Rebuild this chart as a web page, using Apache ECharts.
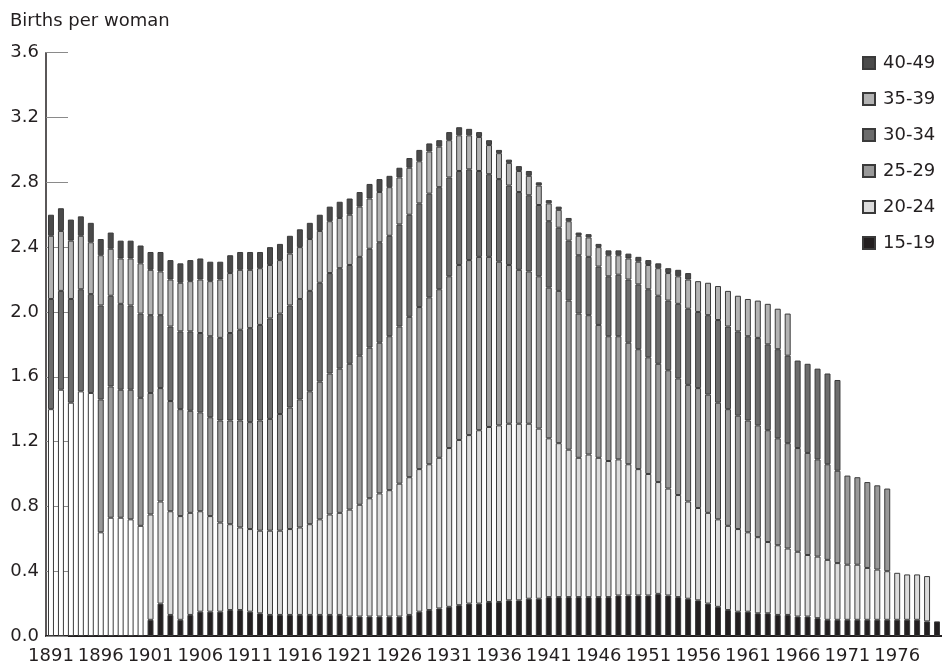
<!DOCTYPE html>
<html><head><meta charset="utf-8">
<script src="https://cdn.jsdelivr.net/npm/echarts@6/dist/echarts.min.js"></script>
<style>html,body{margin:0;padding:0;background:#fff}#c{width:942px;height:667px}</style>
</head><body><div id="c"></div>
<script>
const years = Array.from({length: 90}, (_, i) => String(1891 + i));
const yTicks = [0, 0.4, 0.8, 1.2, 1.6, 2.0, 2.4, 2.8, 3.2, 3.6];
const legendNames = ['40-49', '35-39', '30-34', '25-29', '20-24', '15-19'];
const E = '-';
const s15_19 = [E,E,E,E,E,E,E,E,E,E,
  .10,.20,.13,.10,.13,.15,.15,.15,.16,.16,
  .15,.14,.13,.13,.13,.13,.13,.13,.13,.13,
  .12,.12,.12,.12,.12,.12,.13,.15,.16,.17,
  .18,.19,.20,.20,.21,.21,.22,.22,.23,.23,
  .24,.24,.24,.24,.24,.24,.24,.25,.25,.25,
  .25,.26,.25,.24,.23,.22,.20,.18,.16,.15,
  .15,.14,.14,.13,.13,.12,.12,.11,.10,.10,
  .10,.10,.10,.10,.10,.10,.10,.10,.09,.09];
const s15_24 = [1.40,1.52,1.44,1.51,1.50,.64,.73,.73,.72,.68,
  E,E,E,E,E,E,E,E,E,E, E,E,E,E,E,E,E,E,E,E, E,E,E,E,E,E,E,E,E,E, E,E,E,E,E,E,E,E,E,E,
  E,E,E,E,E,E,E,E,E,E, E,E,E,E,E,E,E,E,E,E, E,E,E,E,E,E,E,E,E,E, E,E,E,E,E,E,E,E,E,E];
const s20_24 = [E,E,E,E,E,E,E,E,E,E,
  .65,.63,.64,.64,.63,.62,.59,.55,.53,.51,
  .51,.51,.52,.52,.53,.54,.56,.59,.62,.63,
  .66,.69,.73,.76,.78,.82,.85,.88,.90,.93,
  .98,1.02,1.04,1.07,1.08,1.09,1.09,1.09,1.08,1.05,
  .98,.95,.91,.86,.88,.86,.84,.84,.81,.78,
  .75,.69,.66,.63,.60,.57,.56,.54,.52,.51,
  .49,.47,.44,.43,.41,.40,.38,.38,.37,.35,
  .34,.34,.32,.31,.30,.29,.28,.28,.28,E];
const s25_29 = [E,E,E,E,E,.82,.81,.79,.80,.79,
  .75,.70,.68,.66,.63,.61,.61,.63,.64,.66,
  .66,.68,.69,.72,.75,.79,.82,.85,.87,.89,
  .90,.92,.93,.93,.95,.97,.99,1.00,1.03,1.04,
  1.06,1.08,1.08,1.07,1.05,1.01,.98,.95,.94,.94,
  .93,.94,.92,.89,.86,.82,.77,.76,.75,.74,
  .72,.73,.73,.72,.72,.74,.73,.72,.72,.70,
  .69,.69,.69,.66,.65,.64,.63,.60,.59,.57,
  .55,.54,.53,.52,.51,E,E,E,E,E];
const s30_34 = [.68,.61,.64,.63,.61,.58,.56,.53,.52,.52,
  .48,.45,.46,.48,.49,.49,.50,.51,.54,.56,
  .58,.59,.62,.62,.63,.62,.62,.61,.62,.62,
  .61,.61,.61,.62,.62,.63,.63,.64,.64,.63,
  .61,.58,.56,.53,.51,.51,.49,.48,.47,.44,
  .41,.39,.37,.36,.36,.36,.37,.38,.39,.40,
  .42,.42,.43,.46,.47,.47,.49,.51,.51,.52,
  .52,.54,.53,.55,.54,.54,.55,.56,.56,.56,
  E,E,E,E,E,E,E,E,E,E];
const s35_39 = [.39,.37,.36,.33,.32,.31,.29,.28,.29,.31,
  .28,.27,.29,.30,.31,.33,.34,.36,.37,.37,
  .36,.35,.33,.33,.32,.32,.32,.32,.32,.31,
  .31,.31,.31,.31,.30,.29,.29,.26,.26,.25,
  .23,.22,.21,.21,.18,.16,.14,.13,.12,.12,
  .11,.11,.12,.12,.12,.12,.13,.12,.13,.14,
  .15,.17,.17,.17,.18,.19,.20,.21,.22,.22,
  .23,.23,.25,.25,.26,E,E,E,E,E,
  E,E,E,E,E,E,E,E,E,E];
const s40_49 = [.13,.14,.13,.12,.12,.10,.10,.11,.11,.11,
  .11,.12,.12,.12,.13,.13,.12,.11,.11,.11,
  .11,.10,.11,.10,.11,.11,.10,.10,.09,.10,
  .10,.09,.09,.08,.07,.06,.06,.07,.05,.04,
  .05,.05,.04,.03,.03,.02,.02,.03,.03,.02,
  .02,.02,.02,.02,.02,.02,.03,.03,.03,.03,
  .03,.03,.03,.04,.04,E,E,E,E,E,
  E,E,E,E,E,E,E,E,E,E,
  E,E,E,E,E,E,E,E,E,E];

const seriesDefs = [
  ['15-19', s15_19, '#231f20'],
  ['15-24', s15_24, '#ffffff'],
  ['20-24', s20_24, '#dcdcdc'],
  ['25-29', s25_29, '#999999'],
  ['30-34', s30_34, '#6c6c6c'],
  ['35-39', s35_39, '#b3b3b3'],
  ['40-49', s40_49, '#4a4a4a']
];
const TXT = '#231f20';
const FONT = 'DejaVu Sans';
const chart = echarts.init(document.getElementById('c'), null, {renderer: 'canvas'});
chart.setOption({
  animation: false,
  backgroundColor: '#fff',
  textStyle: {fontFamily: FONT},
  title: {text: 'Births per woman', left: 5, top: 7,
    textStyle: {fontSize: 18, fontWeight: 'normal', color: TXT, fontFamily: FONT}},
  legend: {
    data: legendNames, orient: 'vertical', left: 857, top: 48,
    itemWidth: 12, itemHeight: 12, itemGap: 16, icon: 'rect',
    textStyle: {fontSize: 18, color: TXT, lineHeight: 20, padding: [0, 0, 0, 3], fontFamily: FONT}
  },
  grid: {left: 46, right: 0, top: 52.7, bottom: 31, containLabel: false, outerBoundsMode: 'none'},
  xAxis: {
    type: 'category', data: years,
    axisLine: {lineStyle: {color: TXT, width: 2}},
    axisTick: {show: false},
    axisLabel: {interval: 4, fontSize: 18, color: TXT, margin: 11, fontFamily: FONT}
  },
  yAxis: {
    type: 'value', min: 0, max: 3.6, interval: 0.4,
    axisLine: {show: true, lineStyle: {color: TXT, width: 1.5}},
    axisTick: {show: true, inside: true, length: 22, lineStyle: {color: '#8a8a8a', width: 1}},
    splitLine: {show: false},
    axisLabel: {fontSize: 18, color: TXT, margin: 7, fontFamily: FONT,
      formatter: v => yTicks.includes(Math.round(v * 10) / 10) ? v.toFixed(1) : ''}
  },
  series: seriesDefs.map(([name, data, color]) => ({
    name, type: 'bar', stack: 'tfr', data,
    barWidth: '60%',
    itemStyle: {color, borderColor: '#3a3a3a', borderWidth: 1},
    emphasis: {disabled: true}
  }))
});
</script></body></html>
